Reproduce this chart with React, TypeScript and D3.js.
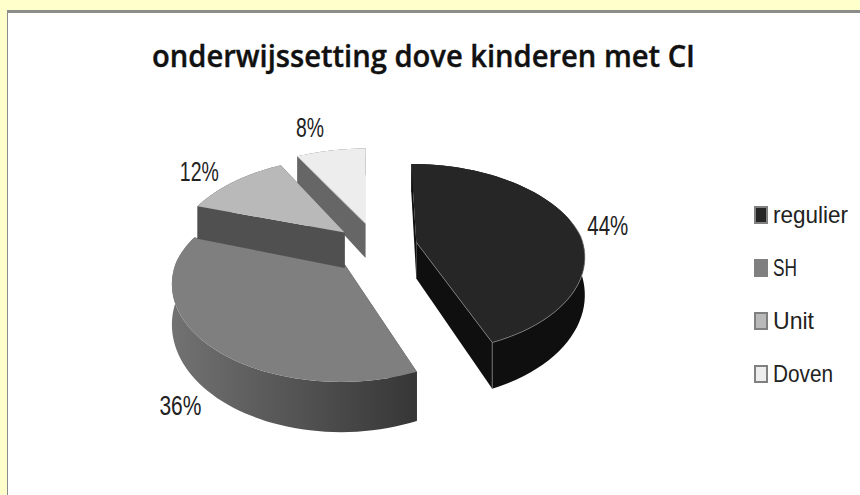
import React from "react";
import * as d3 from "d3";

// Share of deaf children with a CI per type of school setting
const categories = ["regulier", "SH", "Unit", "Doven"];
const shares = [44, 36, 12, 8];
const titleText = "onderwijssetting dove kinderen met CI";

// Fills: top face, side wall near end, side wall far end, radial wall
const topFills = ["#262626", "#7f7f7f", "#b9b9b9", "#ededed"];
const wallNear = ["#0f0f0f", "#363636", "#505050", "#666666"];
const wallFar = ["#0f0f0f", "#727272", "#505050", "#666666"];
const radialFills = ["#0f0f0f", "#363636", "#505050", "#666666"];

// Distance each slice is pulled out of the pie
const explosion = [40, 48, 42, 46];
// Small per-slice corrections of the rim relative to the slice's apex
const rimShift: [number, number][] = [[1, -5], [-3, 0], [2, 0], [0, 0]];
const rimFrontDrop = [3, 5, 0, 0];
const rimScale = [0.975, 0.985, 1, 1];
// Label shift away from the rim at the slice's middle angle
const labelShift: [number, number][] = [[37, 5], [-27, 62], [-35, -9], [-21, -22]];
const labelWidths = [41, 42, 39, 28];
const legendWidths = [75, 24, 41, 60];
const paintOrder = [1, 0, 3, 2];

const WIDTH = 860;
const HEIGHT = 495;
const CX = 377;
const CY = 246;
const RX = 168;
const RY = 91;
const PERSPECTIVE = 0.21;
const VANISH_X = 367;
const LEAN = 0.7;
const FONT = "'Liberation Sans', sans-serif";

const arcs = d3.pie<number>().sort(null).value((d) => d)(shares);

const thickness = (y: number) => 12 + 0.1 * y;

function sliceCentre(i: number): [number, number] {
  const mid = (arcs[i].startAngle + arcs[i].endAngle) / 2;
  return [CX + explosion[i] * Math.sin(mid), CY - 0.5 * explosion[i] * Math.cos(mid)];
}

function rimPoint(i: number, a: number): [number, number] {
  const c = sliceCentre(i);
  const cosA = Math.cos(a);
  const w = 1 / (1 + PERSPECTIVE * cosA);
  const s = rimScale[i];
  // The far half of a slice leans towards the vanishing column
  const lean = LEAN * (c[0] - VANISH_X) * (Math.min(w, 1) - 1);
  return [
    c[0] + rimShift[i][0] + lean + s * RX * Math.sin(a) * w,
    c[1] + rimShift[i][1] + rimFrontDrop[i] * Math.max(0, -cosA) - s * RY * cosA * w,
  ];
}

const lower = (p: [number, number]): [number, number] => [p[0], p[1] + thickness(p[1])];

const line = d3.line<[number, number]>();
const closed = (pts: [number, number][]) => line(pts) + "Z";

function Slice({ i }: { i: number }) {
  const { startAngle, endAngle } = arcs[i];
  const centre = sliceCentre(i);
  const angles = d3.range(0, 61).map((k) => startAngle + ((endAngle - startAngle) * k) / 60);
  const rim = angles.map((a) => rimPoint(i, a));
  const first = rim[0];
  const last = rim[rim.length - 1];
  const face = closed([centre, ...rim]);
  const band = closed([...rim, ...rim.map(lower).reverse()]);
  const isDark = i === 0;
  return (
    <g>
      <defs>
        <linearGradient id={`wall-${i}`} x1="1" x2="0" y1="0" y2="0">
          <stop offset="0" stopColor={wallNear[i]} />
          <stop offset="1" stopColor={wallFar[i]} />
        </linearGradient>
      </defs>
      <path d={closed([centre, first, lower(first), lower(centre)])} fill={radialFills[i]} />
      <path d={closed([centre, last, lower(last), lower(centre)])} fill={radialFills[i]} />
      <path d={band} fill={`url(#wall-${i})`} />
      <path d={face} fill={topFills[i]} />
      {isDark && (
        <>
          <path
            d={line([centre, last, ...rim.slice(30).reverse()]) ?? ""}
            fill="none"
            stroke="#8a8a8a"
            strokeWidth={0.7}
          />
          <path d={line([last, lower(last)]) ?? ""} stroke="#8a8a8a" strokeWidth={0.7} />
        </>
      )}
      {i === 3 && <path d={line([first, centre]) ?? ""} stroke="#b5b5b5" strokeWidth={1} />}
    </g>
  );
}

function labelPosition(i: number): [number, number] {
  const mid = (arcs[i].startAngle + arcs[i].endAngle) / 2;
  const p = rimPoint(i, mid);
  return [p[0] + labelShift[i][0], p[1] + labelShift[i][1]];
}

const legendY = d3.scalePoint<string>().domain(categories).range([215, 374]);

export default function App() {
  return (
    <svg
      width={WIDTH}
      height={HEIGHT}
      style={{ position: "absolute", left: 0, top: 0, display: "block" }}
      fontFamily={FONT}
    >
      <rect width={WIDTH} height={HEIGHT} fill="#ffffcc" />
      <rect x={7} y={10} width={WIDTH - 7} height={HEIGHT - 10} fill="#8c8c8c" />
      <rect x={8} y={13} width={WIDTH - 8} height={HEIGHT - 13} fill="#ffffff" />

      <text
        x={152}
        y={67}
        fontSize={31}
        fontWeight={600}
        fontFamily="'Open Sans', sans-serif"
        fill="#111"
        stroke="#111"
        strokeWidth={0.4}
        textLength={543}
        lengthAdjust="spacingAndGlyphs"
      >
        {titleText}
      </text>

      {paintOrder.map((i) => (
        <Slice key={categories[i]} i={i} />
      ))}

      {shares.map((v, i) => {
        const [x, y] = labelPosition(i);
        return (
          <text
            key={categories[i]}
            x={x}
            y={y}
            fontSize={27}
            fill="#222"
            textAnchor="middle"
            dominantBaseline="central"
            textLength={labelWidths[i]}
            lengthAdjust="spacingAndGlyphs"
          >
            {`${v}%`}
          </text>
        );
      })}

      {categories.map((c, i) => {
        const y = legendY(c) ?? 0;
        return (
          <g key={c}>
            <rect
              x={755}
              y={y - 8}
              width={12}
              height={16}
              fill={topFills[i]}
              stroke="#808080"
              strokeWidth={2}
            />
            <text
              x={773}
              y={y + 8}
              fontSize={24}
              fill="#222"
              textLength={legendWidths[i]}
              lengthAdjust="spacingAndGlyphs"
            >
              {c}
            </text>
          </g>
        );
      })}
    </svg>
  );
}
